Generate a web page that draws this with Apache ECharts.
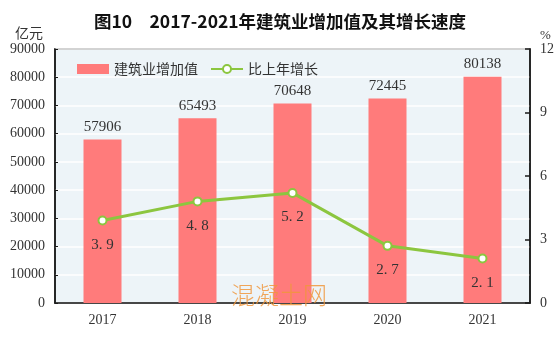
<!DOCTYPE html>
<html>
<head>
<meta charset="utf-8">
<script src="https://cdn.jsdelivr.net/npm/echarts@6/dist/echarts.min.js"></script>
<style>
  html, body { margin: 0; padding: 0; background: #fff; }
  #chart { width: 560px; height: 339px; }
</style>
</head>
<body>
<div id="chart"></div>
<script>
// Construction value added (100 million yuan) and year-on-year growth (%)
const years = ['2017', '2018', '2019', '2020', '2021'];
const valueAdded = [57906, 65493, 70648, 72445, 80138];
const growthRate = [3.9, 4.8, 5.2, 2.7, 2.1];
const leftTicks = [0, 10000, 20000, 30000, 40000, 50000, 60000, 70000, 80000, 90000];
const rightTicks = [0, 3, 6, 9, 12];

const serif = '"Liberation Serif", "DejaVu Serif", serif';
const cjk = '"Noto Sans CJK SC", sans-serif';

const chart = echarts.init(document.getElementById('chart'), null, { renderer: 'canvas' });

chart.setOption({
  animation: false,
  backgroundColor: '#ffffff',
  title: {
    text: '图10　2017-2021年建筑业增加值及其增长速度',
    left: 'center',
    top: 8,
    textStyle: { fontFamily: cjk, fontSize: 17.5, fontWeight: 'bold', color: '#111' }
  },
  legend: {
    left: 72,
    top: 57,
    itemGap: 12,
    textStyle: { fontFamily: cjk, fontSize: 14, color: '#333' },
    data: [
      { name: '建筑业增加值', icon: 'rect', itemStyle: { color: '#FF7B7B' } },
      { name: '比上年增长' }
    ],
    itemWidth: 32,
    itemHeight: 10
  },
  grid: {
    left: 55, right: 30, top: 49, bottom: 36,
    show: true,
    backgroundColor: '#EDF4F8',
    borderColor: '#1a1a1a',
    borderWidth: 1.5
  },
  xAxis: {
    type: 'category',
    data: years,
    boundaryGap: true,
    axisLine: { lineStyle: { color: '#1a1a1a', width: 1.5 } },
    axisTick: { inside: true, length: 5, lineStyle: { color: '#1a1a1a', width: 1.5 } },
    axisLabel: { fontFamily: serif, fontSize: 14, color: '#333', margin: 10 }
  },
  yAxis: [
    {
      type: 'value',
      min: leftTicks[0],
      max: leftTicks[leftTicks.length - 1],
      interval: 10000,
      name: '亿元',
      nameLocation: 'end',
      nameGap: 9,
      nameTextStyle: { fontFamily: cjk, fontSize: 14, color: '#333', align: 'right', padding: [0, 12, 0, 0] },
      axisLine: { show: true, lineStyle: { color: '#1a1a1a', width: 1.5 } },
      axisTick: { show: true, inside: true, length: 3, lineStyle: { color: '#1a1a1a' } },
      axisLabel: { fontFamily: serif, fontSize: 14, color: '#333', margin: 10, formatter: v => String(v) },
      splitLine: { show: true, lineStyle: { color: '#ffffff', width: 1.5 } }
    },
    {
      type: 'value',
      min: rightTicks[0],
      max: rightTicks[rightTicks.length - 1],
      interval: 3,
      name: '%',
      nameLocation: 'end',
      nameGap: 6,
      nameTextStyle: { fontFamily: serif, fontSize: 13, color: '#333', align: 'left', padding: [0, 0, 0, 10] },
      axisLine: { show: true, lineStyle: { color: '#1a1a1a', width: 1.5 } },
      axisTick: { show: true, inside: true, length: 5, lineStyle: { color: '#1a1a1a', width: 1.5 } },
      axisLabel: { fontFamily: serif, fontSize: 14, color: '#333', margin: 10 },
      splitLine: { show: false }
    }
  ],
  series: [
    {
      name: '建筑业增加值',
      type: 'bar',
      yAxisIndex: 0,
      data: valueAdded,
      barWidth: '40%',
      itemStyle: { color: '#FF7B7B' },
      label: {
        show: true,
        position: 'top',
        distance: 5,
        fontFamily: serif,
        fontSize: 15,
        color: '#333'
      }
    },
    {
      name: '比上年增长',
      type: 'line',
      yAxisIndex: 1,
      data: growthRate,
      symbol: 'circle',
      symbolSize: 8,
      lineStyle: { color: '#8CC63F', width: 3 },
      itemStyle: { color: '#ffffff', borderColor: '#8CC63F', borderWidth: 2 },
      label: {
        show: true,
        position: 'bottom',
        distance: 12,
        fontFamily: serif,
        fontSize: 15,
        color: '#333',
        formatter: p => p.value.toFixed(1).replace('.', '. ')
      },
      z: 5
    }
  ],
  graphic: [
    {
      type: 'text',
      left: 231,
      top: 283,
      z: 100,
      style: {
        text: '混凝土网',
        fontFamily: cjk,
        fontSize: 24,
        fontWeight: 300,
        fill: 'rgba(240, 150, 60, 0.85)'
      }
    }
  ]
});
</script>
</body>
</html>
